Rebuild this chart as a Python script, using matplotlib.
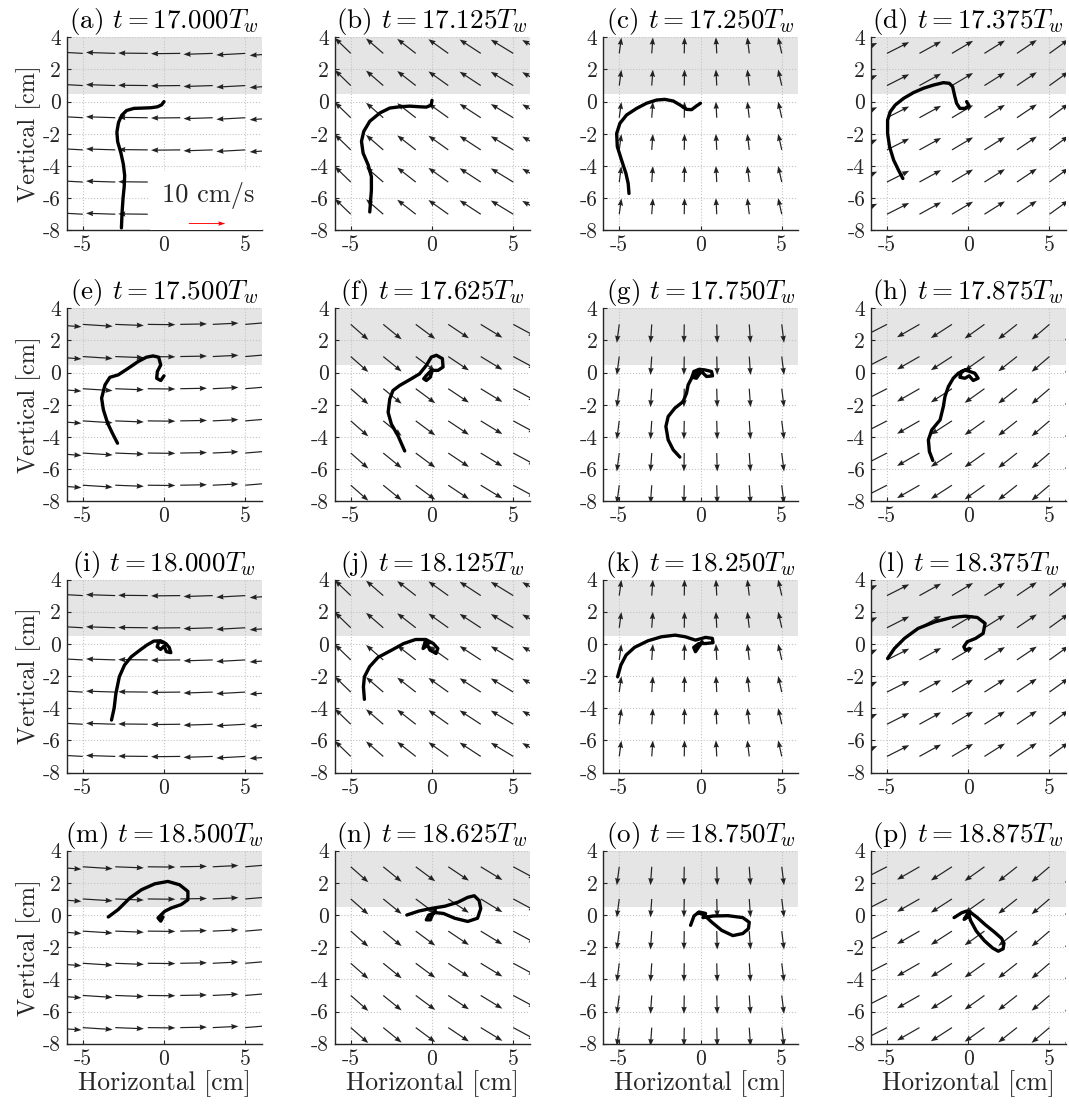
import numpy as np
import matplotlib
matplotlib.use('Agg')
import matplotlib.pyplot as plt
from matplotlib.patches import Rectangle

plt.rcParams['font.family'] = 'cmr10'
plt.rcParams['mathtext.fontset'] = 'cm'
plt.rcParams['axes.unicode_minus'] = False

labels = list('abcdefghijklmnop')
times = ['17.000', '17.125', '17.250', '17.375', '17.500', '17.625', '17.750', '17.875',
         '18.000', '18.125', '18.250', '18.375', '18.500', '18.625', '18.750', '18.875']

# quiver grid (arrow tails)
grid_x = [-7, -5, -3, -1, 1, 3, 5, 7]
grid_y = [3, 1, -1, -3, -5, -7]

# arrow components per column (plot cm), one row per wave phase (period / 8)
u_phase = [
    [-1.75, -1.78, -1.80, -1.82, -1.80, -1.80, -1.78, -1.73],
    [-0.90, -0.98, -1.06, -1.14, -1.22, -1.30, -1.38, -1.45],
    [0.20, 0.13, 0.07, 0.02, -0.05, -0.12, -0.22, -0.30],
    [1.40, 1.37, 1.33, 1.30, 1.26, 1.22, 1.18, 1.12],
    [1.92, 1.84, 1.76, 1.70, 1.64, 1.58, 1.54, 1.50],
    [1.00, 1.08, 1.13, 1.20, 1.27, 1.33, 1.40, 1.45],
    [-0.22, -0.15, -0.08, -0.02, 0.03, 0.08, 0.14, 0.20],
    [-1.50, -1.45, -1.38, -1.30, -1.22, -1.15, -1.10, -1.05],
]
v_phase = [
    [0.12, 0.10, 0.06, 0.02, -0.02, -0.06, -0.10, -0.13],
    [1.00, 0.96, 0.93, 0.90, 0.88, 0.86, 0.85, 0.83],
    [0.98, 0.98, 0.99, 1.00, 1.00, 1.00, 1.00, 1.00],
    [0.65, 0.70, 0.74, 0.78, 0.80, 0.83, 0.86, 0.90],
    [-0.15, -0.12, -0.07, -0.02, 0.03, 0.08, 0.13, 0.17],
    [-1.00, -0.96, -0.93, -0.90, -0.86, -0.82, -0.76, -0.70],
    [-1.15, -1.15, -1.15, -1.15, -1.15, -1.15, -1.15, -1.15],
    [-0.70, -0.75, -0.80, -0.85, -0.88, -0.92, -0.95, -1.00],
]

# filament shapes
xa = [0.0, -0.15, -0.4, -0.8, -1.3, -1.85, -2.3, -2.6, -2.8, -2.9, -2.85, -2.65, -2.5, -2.42, -2.45, -2.52, -2.58, -2.62]
ya = [0.0, -0.2, -0.32, -0.38, -0.4, -0.42, -0.55, -0.85, -1.3, -1.9, -2.5, -3.2, -3.9, -4.6, -5.3, -6.0, -6.9, -7.85]
xb = [0.0, -0.05, -0.35, -0.76, -1.37, -2.0, -2.6, -3.2, -3.83, -4.2, -4.34, -4.24, -3.93, -3.73, -3.73, -3.79, -3.83]
yb = [0.08, -0.22, -0.34, -0.32, -0.28, -0.32, -0.4, -0.7, -1.22, -1.85, -2.47, -3.2, -3.93, -4.66, -5.5, -6.33, -6.86]
xc = [0.0, -0.25, -0.55, -0.86, -1.27, -1.68, -2.19, -2.7, -3.32, -3.93, -4.55, -4.96, -5.16, -5.12, -4.86, -4.59, -4.45, -4.4]
yc = [-0.1, -0.27, -0.5, -0.48, -0.2, 0.04, 0.14, 0.1, -0.1, -0.42, -0.83, -1.35, -1.98, -2.8, -3.63, -4.46, -5.09, -5.71]
xd = [-0.1, 0.05, -0.2, -0.51, -0.71, -0.82, -0.96, -1.16, -1.53, -2.14, -2.76, -3.37, -3.98, -4.49, -4.8, -4.96, -4.96, -4.84, -4.59, -4.29, -4.02]
yd = [0.0, -0.25, -0.42, -0.42, -0.11, 0.31, 0.93, 1.14, 1.18, 1.03, 0.83, 0.56, 0.2, -0.21, -0.63, -1.15, -1.98, -2.8, -3.63, -4.26, -4.78]
xe = [0.0, -0.2, -0.45, -0.41, -0.2, -0.33, -0.67, -1.08, -1.59, -2.2, -2.82, -3.33, -3.63, -3.84, -3.73, -3.47, -3.18, -2.86]
ye = [-0.2, -0.49, -0.35, 0.07, 0.48, 0.96, 1.04, 0.96, 0.69, 0.27, -0.14, -0.29, -0.76, -1.59, -2.31, -3.14, -3.76, -4.39]
xf = [-1.68, -2.09, -2.5, -2.7, -2.6, -2.4, -1.99, -1.27, -0.76, -0.35, -0.04, 0.27, 0.64, 0.68, 0.37, -0.04, -0.35, -0.51, -0.35, -0.1, 0.0]
yf = [-4.87, -3.93, -3.2, -2.47, -1.64, -1.11, -0.8, -0.38, -0.07, 0.45, 0.97, 1.08, 0.87, 0.35, 0.14, 0.14, -0.18, -0.38, -0.49, -0.28, 0.1]
xg = [-1.27, -1.68, -1.99, -2.13, -1.99, -1.58, -1.07, -0.86, -0.76, -0.55, -0.41, -0.08, 0.27, 0.68, 0.74, 0.37, 0.06, -0.25, -0.49, -0.25, -0.04]
yg = [-5.25, -4.8, -4.18, -3.35, -2.73, -2.21, -1.8, -1.28, -0.76, -0.35, 0.07, 0.21, 0.17, 0.07, -0.2, -0.24, 0.07, -0.04, -0.29, -0.35, -0.04]
xh = [-2.18, -2.39, -2.45, -2.24, -1.73, -1.53, -1.43, -1.22, -0.92, -0.61, -0.2, 0.1, 0.41, 0.61, 0.31, 0.06, -0.2, -0.51, -0.41, 0.0]
yh = [-5.46, -4.9, -4.18, -3.56, -2.94, -2.11, -1.49, -0.87, -0.35, -0.04, 0.17, 0.07, -0.04, -0.35, -0.49, -0.2, -0.35, -0.29, 0.07, 0.21]
xi = [-3.23, -3.07, -2.96, -2.75, -2.43, -2.01, -1.48, -1.06, -0.63, -0.21, 0.11, 0.32, 0.42, 0.15, 0.0, -0.21, -0.42, -0.32, -0.1]
yi = [-4.74, -4.01, -3.08, -2.05, -1.32, -0.8, -0.39, -0.08, 0.17, 0.19, 0.02, -0.22, -0.55, -0.49, -0.14, -0.35, -0.18, 0.13, 0.1]
xj = [-4.16, -4.22, -4.16, -3.84, -3.32, -2.48, -1.74, -1.01, -0.38, 0.08, 0.36, 0.25, -0.13, -0.27, -0.55, -0.42, -0.2]
yj = [-3.45, -2.67, -2.05, -1.42, -0.84, -0.39, 0.02, 0.27, 0.27, 0.02, -0.29, -0.6, -0.39, -0.08, -0.29, 0.13, 0.05]
xk = [-5.1, -4.9, -4.58, -4.06, -3.23, -2.4, -1.56, -0.94, -0.31, 0.31, 0.73, 0.77, 0.31, -0.1, -0.42, -0.31, -0.1, 0.1]
yk = [-2.05, -1.32, -0.7, -0.22, 0.19, 0.44, 0.54, 0.44, 0.23, 0.4, 0.34, 0.07, 0.02, 0.02, -0.22, -0.49, -0.18, 0.13]
xl = [-4.96, -4.54, -3.92, -3.08, -2.04, -1.0, -0.17, 0.56, 1.04, 0.92, 0.46, -0.06, -0.27, -0.17, 0.08]
yl = [-0.91, -0.29, 0.34, 0.96, 1.37, 1.64, 1.72, 1.64, 1.27, 0.65, 0.34, 0.13, -0.18, -0.39, -0.29]
xm = [-3.43, -2.82, -2.1, -1.39, -0.57, 0.24, 0.96, 1.47, 1.47, 1.06, 0.45, 0.04, -0.16, -0.37, -0.2, -0.06]
ym = [-0.12, 0.34, 1.06, 1.57, 1.94, 2.09, 1.88, 1.47, 0.95, 0.65, 0.44, 0.23, 0.03, -0.18, -0.38, -0.12]
xn = [-1.55, -0.8, 0.0, 0.8, 1.6, 2.2, 2.6, 2.9, 3.0, 2.8, 2.2, 1.4, 0.7, 0.2, -0.2, -0.35, -0.1, 0.0, 0.2]
yn = [0.0, 0.25, 0.42, 0.55, 0.8, 1.1, 1.2, 0.9, 0.4, -0.2, -0.4, -0.2, 0.1, 0.15, 0.0, -0.3, -0.3, -0.05, 0.3]
xo = [-0.61, -0.4, -0.09, 0.31, 0.15, 0.77, 1.69, 2.6, 3.0, 2.95, 2.6, 1.99, 1.3, 0.7, 0.2, -0.15]
yo = [-0.64, -0.06, 0.19, 0.1, -0.16, -0.06, -0.04, -0.16, -0.45, -0.85, -1.15, -1.28, -0.95, -0.45, 0.02, 0.14]
xp = [-0.87, -0.4, -0.09, 0.06, -0.25, 0.0, 0.15, 0.5, 1.0, 1.5, 1.85, 2.15, 2.2, 2.05, 1.6, 1.05, 0.55, 0.1]
yp = [-0.16, 0.14, 0.25, -0.06, -0.27, 0.15, -0.35, -1.0, -1.6, -2.05, -2.25, -2.1, -1.75, -1.45, -1.05, -0.6, -0.15, 0.2]

curves = [(xa, ya), (xb, yb), (xc, yc), (xd, yd), (xe, ye), (xf, yf), (xg, yg), (xh, yh),
          (xi, yi), (xj, yj), (xk, yk), (xl, yl), (xm, ym), (xn, yn), (xo, yo), (xp, yp)]

W, H = 1069, 1106
fig = plt.figure(figsize=(W / 100, H / 100), dpi=100)

col_left = [66.5, 334.5, 603, 870.7]
row_top = [37.3, 308.3, 579.5, 850.7]
aw, ah = 195, 193

X, Y = np.meshgrid(grid_x, grid_y)
dark = '#262626'

for k in range(16):
    r, c = divmod(k, 4)
    ax = fig.add_axes([col_left[c] / W, 1 - (row_top[r] + ah) / H, aw / W, ah / H])
    ax.set_xlim(-6, 6)
    ax.set_ylim(-8, 4)
    ax.axhspan(0.5, 4, color='#e5e5e5', lw=0, zorder=0)
    ax.set_axisbelow(True)
    ax.grid(True, linestyle=':', color='#c4c4c4', linewidth=0.8)

    ph = k % 8
    U = np.tile(u_phase[ph], (len(grid_y), 1))
    V = np.tile(v_phase[ph], (len(grid_y), 1))
    ax.quiver(X, Y, U, V, angles='xy', scale_units='xy', scale=1,
              units='dots', width=1.2, headwidth=4.5, headlength=6, headaxislength=5.5,
              color='#222222', zorder=2)

    if k == 0:
        ax.add_patch(Rectangle((-0.85, -8), 6.85, 3.7, facecolor='white', edgecolor='none', zorder=3))
        ax.text(2.7, -5.85, '10 cm/s', ha='center', va='center', fontsize=19, color=dark, zorder=4)
        ax.quiver([1.53], [-7.58], [2.25], [0], angles='xy', scale_units='xy', scale=1,
                  units='dots', width=0.9, headwidth=5, headlength=8, headaxislength=7,
                  color='red', zorder=4)

    cx, cy = curves[k]
    ax.plot(cx, cy, color='black', lw=2.4, solid_capstyle='round', solid_joinstyle='round', zorder=5)

    ax.set_xticks([-5, 0, 5])
    ax.set_xticklabels(['-5', '0', '5'])
    ax.set_yticks([-8, -6, -4, -2, 0, 2, 4])
    ax.set_yticklabels(['-8', '-6', '-4', '-2', '0', '2', '4'])
    ax.tick_params(direction='in', length=3, width=0.8, colors=dark, labelsize=15.5, pad=4)
    for s in ['top', 'right']:
        ax.spines[s].set_visible(False)
    for s in ['left', 'bottom']:
        ax.spines[s].set_color(dark)
        ax.spines[s].set_linewidth(1.0)

    ax.set_title('(%s) $t = %s T_w$' % (labels[k], times[k]), fontsize=19.5, color='black', pad=3)
    if c == 0:
        ax.set_ylabel('Vertical [cm]', fontsize=17.5, color=dark, labelpad=1)
    if r == 3:
        ax.set_xlabel('Horizontal [cm]', fontsize=18.5, color=dark, labelpad=1)

fig.savefig('out.png', dpi=100)
